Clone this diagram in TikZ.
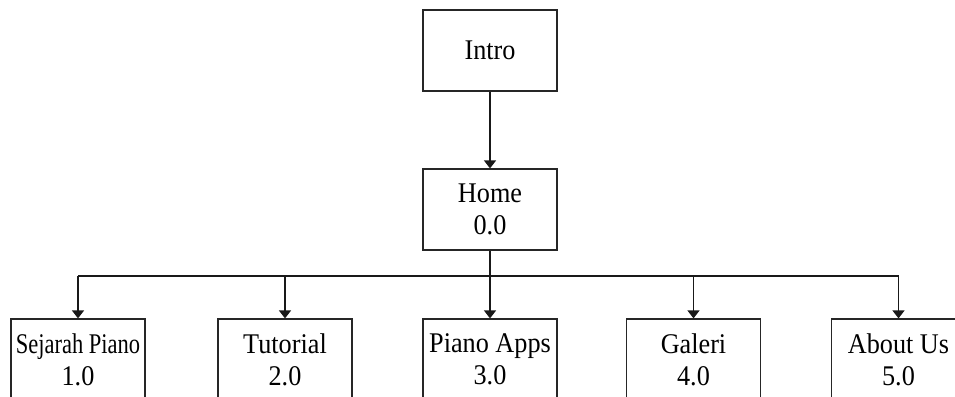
\documentclass[tikz,border=0pt]{standalone}
\usepackage{fontspec}
\setmainfont[FakeStretch=0.92]{Liberation Serif}
\newfontfamily\narrowserif[FakeStretch=0.79]{Liberation Serif}
\usetikzlibrary{arrows.meta}
\begin{document}
\begin{tikzpicture}[x=1pt,y=-1pt,
  box/.style={draw=black!85, line width=1.2pt, minimum width=134pt, minimum height=81pt,
    inner sep=0pt, align=center, font=\fontsize{28.5}{32}\selectfont},
  link/.style={draw=black!90, line width=1.3pt},
  arr/.style={link, -{Triangle[width=12pt,length=8pt]}}]
  \useasboundingbox (0,0) rectangle (955,396);
  \clip (0,0) rectangle (955,396);
  % top of the hierarchy
  \node[box] (intro) at (490,50.5) {Intro};
  \node[box] (home) at (490,209.5) {Home\\0.0};
  % first-level pages
  \node[box] (sejarah) at (78,359.5) {{\narrowserif Sejarah Piano}\\1.0};
  \node[box] (tutorial) at (285,359.5) {Tutorial\\2.0};
  \node[box] (apps) at (490,359.5) {Piano Apps\\3.0};
  \node[box] (galeri) at (693.5,359.5) {Galeri\\4.0};
  \node[box] (about) at (898.5,359.5) {About Us\\5.0};
  % connectors
  \coordinate (bus) at (490,276);
  \coordinate (busL) at (78,276);
  \coordinate (busR) at (898.5,276);
  \draw[arr] (intro.south) -- (home.north);
  \draw[link] (home.south) -- (bus);
  \draw[link] (busL) -- (busR);
  \foreach \n in {sejarah,tutorial,apps,galeri,about}
    \draw[arr] (\n.north |- bus) -- (\n.north);
\end{tikzpicture}
\end{document}
